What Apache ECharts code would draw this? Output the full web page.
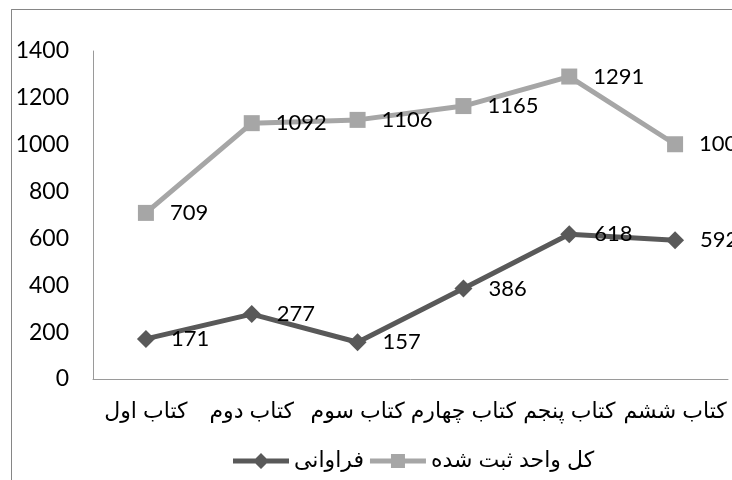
<!DOCTYPE html>
<html><head><meta charset="utf-8">
<script src="https://cdn.jsdelivr.net/npm/echarts@6/dist/echarts.min.js"></script>
<style>html,body{margin:0;padding:0;background:#fff}#c{width:732px;height:480px}</style>
</head><body><div id="c"></div>
<script>
const categories = ['كتاب اول','كتاب دوم','كتاب سوم','كتاب چهارم','كتاب پنجم','كتاب ششم'];
const freqName = 'فراوانی';
const freqValues = [171, 277, 157, 386, 618, 592];
const totalName = 'کل واحد ثبت شده';
const totalValues = [709, 1092, 1106, 1165, 1291, 1002];
const yTicks = {min: 0, max: 1400, interval: 200};

const numFont = 'Lato, "Liberation Sans", sans-serif';
const faFont = '"Liberation Sans", "DejaVu Sans", sans-serif';
const diamondIcon = 'path://M0 5.5 L22.5 5.5 L28 0 L33.5 5.5 L56 5.5 L56 10.5 L33.5 10.5 L28 16 L22.5 10.5 L0 10.5 Z';
const squareIcon = 'path://M0 5.5 L21 5.5 L21 1 L35 1 L35 5.5 L56 5.5 L56 10.5 L35 10.5 L35 15 L21 15 L21 10.5 L0 10.5 Z';
const chart = echarts.init(document.getElementById('c'));
const labelStyle = {show: true, position: 'right', distance: 16, color: '#000', fontSize: 22, fontFamily: numFont};
chart.setOption({
  animation: false,
  backgroundColor: '#fff',
  title: {show: true, text: '\u00a0', left: 11, top: 9, padding: [2, 800, 600, 2],
    borderColor: '#868686', borderWidth: 1, backgroundColor: 'transparent',
    textStyle: {fontSize: 10, color: '#fff'}, z: 0},
  graphic: [{type: 'line', silent: true, z: 100,
    shape: {x1: 11.5, y1: 9.5, x2: 11.5, y2: 480},
    style: {stroke: '#868686', lineWidth: 1}},
    {type: 'line', silent: true, z: 100,
    shape: {x1: 11.5, y1: 9.5, x2: 732, y2: 9.5},
    style: {stroke: '#868686', lineWidth: 1}}],
  grid: {left: 93, right: 4, top: 51, bottom: 101, containLabel: false},
  xAxis: {type: 'category', data: categories, boundaryGap: true,
    axisLine: {lineStyle: {color: '#9a9a9a', width: 1}},
    axisTick: {show: false},
    axisLabel: {color: '#000', fontSize: 22, fontFamily: faFont, margin: 22, interval: 0}},
  yAxis: {type: 'value', min: yTicks.min, max: yTicks.max, interval: yTicks.interval,
    axisLine: {show: true, lineStyle: {color: '#9a9a9a', width: 1}},
    axisTick: {show: false}, splitLine: {show: false},
    axisLabel: {color: '#000', fontSize: 23, fontFamily: numFont, margin: 24,
      formatter: v => String(v)}},
  legend: {top: 450, left: 233, padding: 0, itemWidth: 56, itemHeight: 16, itemGap: 6,
    textStyle: {color: '#000', fontSize: 22, fontFamily: faFont},
    data: [{name: freqName, icon: diamondIcon}, {name: totalName, icon: squareIcon}]},
  series: [
    {name: freqName, type: 'line', data: freqValues, symbol: 'diamond', symbolSize: 18,
      lineStyle: {color: '#595959', width: 5}, itemStyle: {color: '#595959'},
      label: labelStyle},
    {name: totalName, type: 'line', data: totalValues, symbol: 'rect', symbolSize: 16,
      lineStyle: {color: '#a6a6a6', width: 5}, itemStyle: {color: '#a6a6a6'},
      label: labelStyle}
  ]
});
</script></body></html>
